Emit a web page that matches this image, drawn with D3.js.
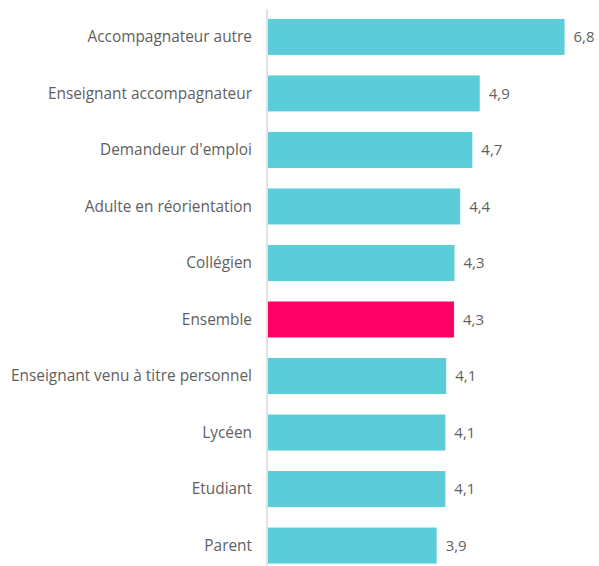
<!DOCTYPE html>
<html>
<head>
<meta charset="utf-8">
<script src="https://cdn.jsdelivr.net/npm/d3@7"></script>
<style>
  body { margin: 0; background: #fff; }
  svg { display: block; font-family: "Open Sans", sans-serif; }
</style>
</head>
<body>
<div id="chart"></div>
<script>
const categories = [
  "Accompagnateur autre",
  "Enseignant accompagnateur",
  "Demandeur d'emploi",
  "Adulte en réorientation",
  "Collégien",
  "Ensemble",
  "Enseignant venu à titre personnel",
  "Lycéen",
  "Etudiant",
  "Parent"
];
const values = [6.84, 4.89, 4.72, 4.44, 4.31, 4.3, 4.12, 4.1, 4.1, 3.9];
const highlight = "Ensemble";

const width = 599, height = 566;
const x0 = 267;

const x = d3.scaleLinear().domain([0, 1]).range([x0, x0 + 43.5]);
const y = d3.scaleBand()
    .domain(categories)
    .range([8.75, 573.75])
    .paddingInner(0.363)
    .paddingOuter(0.18);

const fmt = v => d3.format(".1f")(v).replace(".", ",");

const svg = d3.select("#chart").append("svg")
    .attr("width", width)
    .attr("height", height);

svg.append("g")
  .selectAll("rect")
  .data(categories)
  .join("rect")
    .attr("x", x0 + 1)
    .attr("y", d => y(d))
    .attr("width", (d, i) => x(values[i]) - x0 - 1)
    .attr("height", y.bandwidth())
    .attr("fill", d => d === highlight ? "#ff0066" : "#5bcdd9");

// category axis line
svg.append("line")
    .attr("x1", x0).attr("x2", x0)
    .attr("y1", 9).attr("y2", height)
    .attr("stroke", "#d9d9d9")
    .attr("stroke-width", 1.5);

svg.append("g")
    .attr("fill", "#5f5f5f")
    .attr("font-size", 15.4)
  .selectAll("text")
  .data(categories)
  .join("text")
    .attr("x", 252)
    .attr("y", d => y(d) + y.bandwidth() / 2)
    .attr("dy", "0.35em")
    .attr("text-anchor", "end")
    .text(d => d);

svg.append("g")
    .attr("fill", "#5f5f5f")
    .attr("font-size", 15)
  .selectAll("text")
  .data(categories)
  .join("text")
    .attr("x", (d, i) => x(values[i]) + 9)
    .attr("y", d => y(d) + y.bandwidth() / 2)
    .attr("dy", "0.35em")
    .text((d, i) => fmt(values[i]));
</script>
</body>
</html>
